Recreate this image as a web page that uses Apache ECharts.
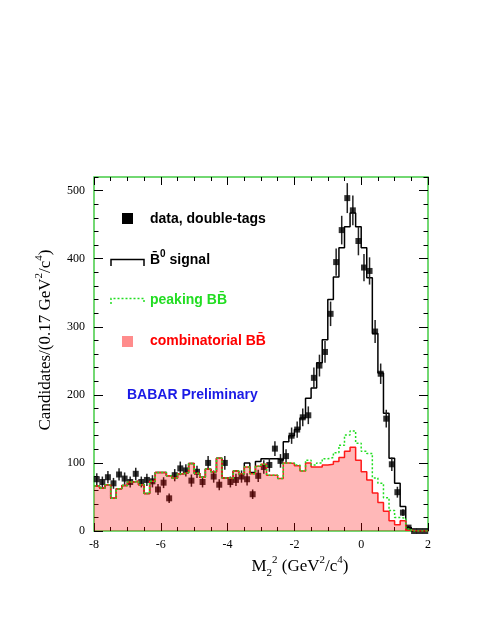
<!DOCTYPE html>
<html>
<head>
<meta charset="utf-8">
<script src="https://cdn.jsdelivr.net/npm/echarts@6/dist/echarts.min.js"></script>
<style>
html,body{margin:0;padding:0;background:#fff;}
#chart{width:491px;height:635px;}
</style>
</head>
<body>
<div id="chart"></div>
<script>
// ---- binning of the M2^2 histogram ----
const xLow = -8;
const xHigh = 2;
const nBins = 60;

// ---- axis tick labels ----
const xTickLabels = [-8, -6, -4, -2, 0, 2];
const yTickLabels = [0, 100, 200, 300, 400, 500];

// ---- data, double-tags (per bin) ----
const dataCounts = [76,72,79,70,83,77,72,84,72,75, 73,61,71,48,82,92,89,74,87,72,
                    100,80,68,100,72,75,80,76,54,81, 94,97,121,103,110,140,149,167,170,225,
                    243,263,319,395,442,489,471,426,387,382, 293,231,165,98,57,27,5,0,0,0];
const dataErrors = [9,8,9,8,9,9,8,9,8,9, 9,8,8,7,9,10,9,9,9,8,
                    10,9,8,10,8,9,9,9,7,9, 10,10,11,10,10,12,12,13,13,15,
                    16,16,18,20,21,22,22,21,20,20, 17,15,13,10,8,5,2,0,0,0];

// ---- combinatorial BB (red filled) ----
const combinatorialBB = [66,63,68,48,62,67,72,73,68,55, 73,86,86,81,78,84,86,99,85,79,
                         91,87,107,78,77,88,84,94,84,95, 98,82,82,77,100,99,96,88,100,94,
                         94,97,98,102,108,117,123,104,87,75, 56,42,29,15,9,15,1,0,0,0];
// ---- combinatorial + peaking BB (green dotted) ----
const peakingPlusComb = [66,63,68,48,62,67,72,73,68,55, 73,86,86,81,78,84,86,99,85,79,
                         91,87,107,78,77,88,84,94,84,95, 98,82,82,77,100,100,97,88,104,97,
                         100,106,108,115,126,141,147,129,117,114, 78,70,49,30,20,19,3,0,0,0];
// ---- B0bar signal + backgrounds (black) ----
const signalPlusBkg = [66,63,68,48,62,67,72,73,68,55, 73,86,86,81,78,84,86,99,85,79,
                       91,87,107,78,77,88,84,100,86,102, 106,106,106,104,131,140,149,166,195,210,
                       247,281,340,373,416,447,467,447,416,372, 290,232,173,107,70,36,5,0,0,0];

const binW = (xHigh - xLow) / nBins;
function stepPoints(vals) {
  const pts = vals.map((v, i) => [xLow + i * binW, v]);
  pts.push([xHigh, vals[vals.length - 1]]);
  return pts;
}
const dataPoints = dataCounts.map((v, i) => [xLow + (i + 0.5) * binW, v, dataErrors[i]]);

const GREEN = '#44cc44';
const serif = '"Liberation Serif", "Times New Roman", serif';
const sans = '"Liberation Sans", Arial, sans-serif';

const chart = echarts.init(document.getElementById('chart'), null, {renderer: 'canvas'});

const yMax = 520;
const yMinorVals = [];
for (let v = 0; v <= yMax; v += 20) yMinorVals.push(v);

function xAxisDef(pos, labels) {
  return {
    type: 'value', position: pos, min: xLow, max: xHigh, interval: 2,
    axisLine: {show: false, onZero: false},
    splitLine: {show: false},
    axisTick: {show: true, inside: true, length: 8, lineStyle: {color: '#000', width: 1}},
    minorTick: {show: true, splitNumber: 4, length: 4, lineStyle: {color: '#000', width: 1}},
    axisLabel: labels ? {show: true, color: '#000', fontFamily: serif, fontSize: 12, margin: 8,
                         customValues: xTickLabels} : {show: false}
  };
}
function yAxisDef(pos, major, labels) {
  return {
    type: 'value', position: pos, min: 0, max: yMax, offset: 0,
    axisLine: {show: false, onZero: false},
    splitLine: {show: false},
    axisTick: {show: true, inside: true, length: major ? 9 : 4.5,
               customValues: major ? yTickLabels : yMinorVals,
               lineStyle: {color: '#000', width: 1}},
    axisLabel: labels ? {show: true, color: '#000', fontFamily: serif, fontSize: 12, margin: 9,
                         customValues: yTickLabels} : {show: false}
  };
}

const option = {
  animation: false,
  backgroundColor: '#fff',
  grid: {left: 94, right: 63, top: 177, bottom: 104, show: true,
         borderColor: GREEN, borderWidth: 1.5, backgroundColor: 'transparent'},
  xAxis: [xAxisDef('bottom', true), xAxisDef('top', false)],
  yAxis: [yAxisDef('left', true, true), yAxisDef('left', false, false),
          yAxisDef('right', true, false), yAxisDef('right', false, false)],
  series: [
    {
      name: 'signal', type: 'line', step: 'end', data: stepPoints(signalPlusBkg),
      xAxisIndex: 0, yAxisIndex: 0, symbol: 'none', z: 2,
      lineStyle: {color: '#000', width: 1.5}
    },
    {
      name: 'errors', type: 'custom', xAxisIndex: 0, yAxisIndex: 0, z: 3,
      data: dataPoints,
      renderItem: function (params, api) {
        const x = api.value(0), y = api.value(1), e = api.value(2);
        if (e <= 0) return null;
        const p1 = api.coord([x, y + e]);
        const p2 = api.coord([x, y - e]);
        return {type: 'line', shape: {x1: p1[0], y1: p1[1], x2: p2[0], y2: p2[1]},
                style: {stroke: '#222', lineWidth: 1.5}};
      }
    },
    {
      name: 'data', type: 'scatter', xAxisIndex: 0, yAxisIndex: 0, z: 4,
      data: dataPoints.map(p => [p[0], p[1]]),
      symbol: 'rect', symbolSize: 6, itemStyle: {color: '#000'}
    },
    {
      name: 'combinatorial', type: 'line', step: 'end', data: stepPoints(combinatorialBB),
      xAxisIndex: 0, yAxisIndex: 0, symbol: 'none', z: 5,
      lineStyle: {color: '#ff1a1a', width: 1.5},
      areaStyle: {color: 'rgba(255,0,0,0.40)', origin: 'start'}
    },
    {
      name: 'peaking', type: 'line', step: 'end', data: stepPoints(peakingPlusComb),
      xAxisIndex: 0, yAxisIndex: 0, symbol: 'none', z: 6,
      lineStyle: {color: '#22dd22', width: 1.5, type: [2, 2]}
    }
  ],
  graphic: [
    // axis titles
    {type: 'text', z: 10, x: 46, y: 340, rotation: Math.PI / 2,
     style: {text: 'Candidates/(0.17 GeV{sup|2}/c{sup|4})', fontFamily: serif, fontSize: 17,
             lineHeight: 24, fill: '#000', align: 'center', verticalAlign: 'middle',
             rich: {sup: {fontFamily: serif, fontSize: 11, lineHeight: 11, verticalAlign: 'top', fill: '#000'}}}},
    {type: 'text', z: 10, x: 300, y: 567,
     style: {text: 'M{sub|2}{sup|2} (GeV{sup|2}/c{sup|4})', fontFamily: serif, fontSize: 17,
             lineHeight: 24, fill: '#000', align: 'center', verticalAlign: 'middle',
             rich: {sup: {fontFamily: serif, fontSize: 11, lineHeight: 11, verticalAlign: 'top', fill: '#000'},
                    sub: {fontFamily: serif, fontSize: 11, lineHeight: 11, verticalAlign: 'bottom', fill: '#000'}}}},
    // legend
    {type: 'rect', z: 10, shape: {x: 122, y: 213, width: 11, height: 11}, style: {fill: '#000'}},
    {type: 'text', z: 10, x: 150, y: 219,
     style: {text: 'data, double-tags', fontFamily: sans, fontWeight: 'bold', fontSize: 14,
             fill: '#000', verticalAlign: 'middle'}},
    {type: 'polyline', z: 10, shape: {points: [[111, 266], [111, 259.5], [144, 259.5], [144, 266]]},
     style: {stroke: '#000', lineWidth: 1.5, fill: null}},
    {type: 'text', z: 10, x: 150, y: 260,
     style: {text: 'B\u0304{sup|0} signal', fontFamily: sans, fontWeight: 'bold', fontSize: 14,
             lineHeight: 22, fill: '#000', verticalAlign: 'middle',
             rich: {sup: {fontFamily: sans, fontWeight: 'bold', fontSize: 10, lineHeight: 10,
                          verticalAlign: 'top', fill: '#000'}}}},
    {type: 'polyline', z: 10, shape: {points: [[111, 304], [111, 298.5], [144, 298.5], [144, 304]]},
     style: {stroke: '#22dd22', lineWidth: 1.5, lineDash: [2, 2], fill: null}},
    {type: 'text', z: 10, x: 150, y: 300,
     style: {text: 'peaking BB\u0304', fontFamily: sans, fontWeight: 'bold', fontSize: 14,
             fill: '#22dd22', verticalAlign: 'middle'}},
    {type: 'rect', z: 10, shape: {x: 122, y: 336, width: 11, height: 11},
     style: {fill: 'rgba(255,0,0,0.45)'}},
    {type: 'text', z: 10, x: 150, y: 341,
     style: {text: 'combinatorial BB\u0304', fontFamily: sans, fontWeight: 'bold', fontSize: 14,
             fill: '#ff0000', verticalAlign: 'middle'}},
    {type: 'text', z: 10, x: 127, y: 395,
     style: {text: 'BABAR Preliminary', fontFamily: sans, fontWeight: 'bold', fontSize: 14,
             fill: '#1a1ae6', verticalAlign: 'middle'}}
  ]
};
chart.setOption(option);
</script>
</body>
</html>
